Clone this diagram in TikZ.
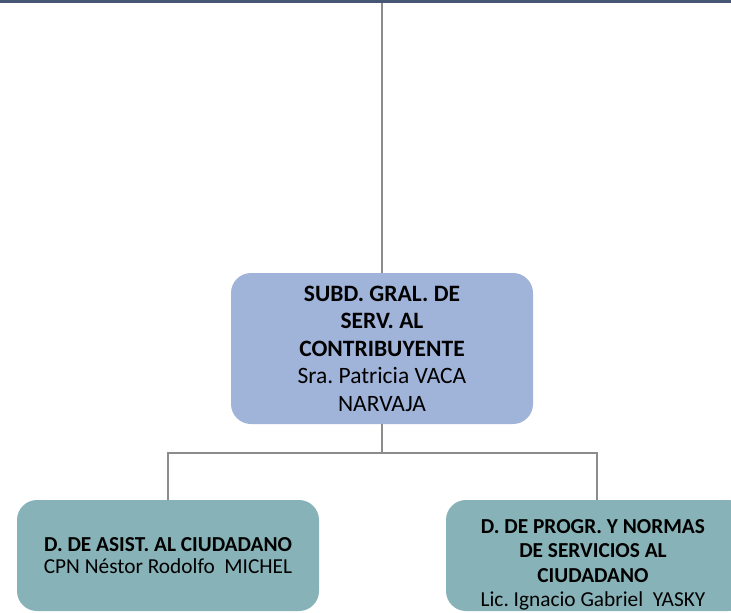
\documentclass[tikz,border=0pt]{standalone}
\usepackage{fontspec}
\setmainfont{Carlito}
\definecolor{barblue}{RGB}{70,86,116}
\definecolor{subdblue}{RGB}{160,179,217}
\definecolor{dirteal}{RGB}{135,178,183}
\definecolor{linegray}{RGB}{140,140,140}
\frenchspacing
\begin{document}
\begin{tikzpicture}[x=0.75pt,y=0.75pt,yscale=-1,xscale=1,
  conn/.style={draw=linegray, line width=1.5},
  unitbox/.style={rounded corners=15pt, minimum width=226.5pt, align=center, inner sep=0pt, text=black}]
\useasboundingbox (0,0) rectangle (731,613);
\clip (0,0) rectangle (731,613);

%Top bar
\fill [barblue] (0,0) rectangle (731,3.5);
\coordinate (top) at (382,3.5);

%Shape: Rounded Rect - subdireccion
\node [unitbox, fill=subdblue, minimum height=113.25pt,
  font=\fontsize{17.6}{20.6}\selectfont] (subd) at (382,348.5)
  {\textbf{SUBD. GRAL. DE}\\\textbf{SERV. AL}\\\textbf{CONTRIBUYENTE}\\Sra. Patricia VACA\\NARVAJA};

%Shape: Rounded Rect - asistencia
\node [unitbox, fill=dirteal, minimum height=83.25pt,
  font=\fontsize{16}{16.5}\selectfont] (asist) at (168,555.5)
  {\textbf{D. DE ASIST. AL CIUDADANO}\\CPN Néstor Rodolfo\ \ MICHEL};

%Shape: Rounded Rect - programas y normas
\node [unitbox, fill=dirteal, minimum height=83.25pt] (progr) at (597,555.5) {};
% Text Node
\node [align=center, inner sep=0pt, font=\fontsize{16}{18.3}\selectfont] (progrtext)
  at ([xshift=-3pt,yshift=7pt]progr.center)
  {\textbf{D. DE PROGR. Y NORMAS}\\\textbf{DE SERVICIOS AL}\\\textbf{CIUDADANO}\\Lic. Ignacio Gabriel\ \ YASKY};

%Connectors
\coordinate (bus) at (382,453);
\draw [conn] (top) -- (subd.north);
\draw [conn] (subd.south) -- (bus);
\draw [conn] (bus) -| (asist.north);
\draw [conn] (bus) -| (progr.north);

\end{tikzpicture}
\end{document}
